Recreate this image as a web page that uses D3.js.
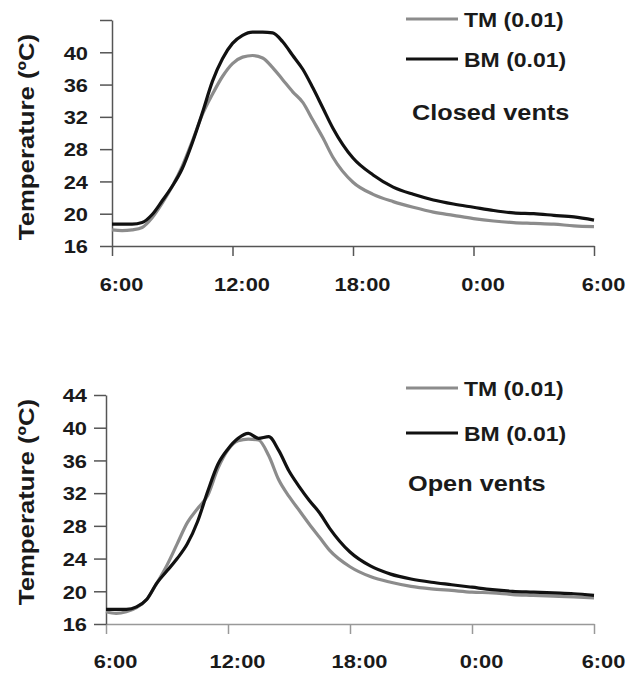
<!DOCTYPE html>
<html>
<head>
<meta charset="utf-8">
<script src="https://cdn.jsdelivr.net/npm/d3@7"></script>
<style>
    body { margin: 0; background: #fff; }
    text { font-family: "Liberation Sans", Arial, sans-serif; font-weight: bold; fill: #1a1a1a; }
</style>
</head>
<body>
<script>
"use strict";

// hours after 6:00
var hours = [0, 0.5, 1, 1.5, 2, 2.5, 3, 3.5, 4, 4.5, 5, 5.5, 6, 6.5, 7, 7.5, 8, 8.5,
    9, 9.5, 10, 10.5, 11, 12, 13, 14, 15, 16, 17, 18, 19, 20, 21, 22, 23, 24];

var timeTicks = [0, 6, 12, 18, 24];
var timeLabels = ["6:00", "12:00", "18:00", "0:00", "6:00"];
var tempTicks = [16, 20, 24, 28, 32, 36, 40, 44];
var seriesNames = ["TM (0.01)", "BM (0.01)"];

// closed vents
var closedTM = [18.0, 17.9, 18.0, 18.3, 19.5, 21.3, 23.4, 25.9, 29.0, 32.3, 34.8, 37.0, 38.6, 39.4, 39.6, 39.3, 38.1, 36.6,
    35.1, 33.8, 31.6, 29.4, 27.0, 23.9, 22.4, 21.5, 20.8, 20.2, 19.8, 19.4, 19.1, 18.9, 18.8, 18.7, 18.5, 18.4];
var closedBM = [18.7, 18.7, 18.7, 18.9, 19.9, 21.6, 23.4, 25.6, 28.8, 32.5, 36.4, 39.2, 41.1, 42.1, 42.5, 42.5, 42.4, 41.3,
    39.6, 37.9, 35.6, 33.1, 30.6, 26.9, 24.8, 23.3, 22.4, 21.7, 21.2, 20.8, 20.4, 20.1, 20.0, 19.8, 19.6, 19.2];

// open vents
var openTM = [17.5, 17.3, 17.5, 18.0, 19.0, 21.0, 23.2, 25.8, 28.4, 30.1, 31.7, 35.0, 37.3, 38.4, 38.6, 38.5, 36.6, 33.6,
    31.6, 29.9, 28.2, 26.6, 25.0, 23.0, 21.8, 21.1, 20.6, 20.3, 20.1, 19.9, 19.8, 19.6, 19.5, 19.4, 19.3, 19.2];
var openBM = [17.8, 17.8, 17.8, 18.1, 19.0, 21.0, 22.5, 24.0, 25.8, 28.5, 32.2, 35.5, 37.4, 38.7, 39.3, 38.7, 38.9, 37.2,
    34.7, 32.8, 31.1, 29.6, 27.7, 24.8, 23.1, 22.1, 21.5, 21.1, 20.8, 20.5, 20.2, 20.0, 19.9, 19.8, 19.7, 19.5];

var W = 627, H = 673;
var stretch = 1.15; // source font is wider than Arial

var svg = d3.select("body").append("svg")
    .attr("width", W)
    .attr("height", H);

function drawPanel(p) {
    var x = d3.scaleLinear().domain([0, 24]).range([p.left, p.right]);
    var y = d3.scaleLinear().domain([16, 44]).range([p.bottom, p.top]);
    var g = svg.append("g");

    // x axis
    var xAxis = g.append("g")
        .attr("transform", "translate(0," + p.bottom + ")")
        .call(d3.axisBottom(x)
            .tickValues(timeTicks)
            .tickSize(10)
            .tickSizeOuter(0)
            .tickFormat(function (d, i) { return timeLabels[i]; }));
    xAxis.select(".domain").attr("stroke", p.xAxisColor).attr("stroke-width", 1.5);
    xAxis.selectAll(".tick line").attr("stroke", p.xAxisColor).attr("stroke-width", 1.5);
    xAxis.selectAll(".tick text")
        .attr("x", 9 / stretch)
        .attr("y", p.xLabelOffset)
        .attr("dy", 0)
        .attr("transform", "scale(" + stretch + ",1)")
        .style("font-size", "19px")
        .attr("font-family", null);

    // y axis
    var yAxis = g.append("g")
        .attr("transform", "translate(" + p.left + ",0)")
        .call(d3.axisLeft(y)
            .tickValues(tempTicks)
            .tickSize(12)
            .tickSizeOuter(0)
            .tickFormat(function (d) { return (d === 44 && !p.showTop) ? "" : d; }));
    yAxis.select(".domain").attr("stroke", "#555").attr("stroke-width", 1.5);
    yAxis.selectAll(".tick line").attr("stroke", "#555").attr("stroke-width", 1.5);
    yAxis.selectAll(".tick text")
        .attr("x", -p.yLabelOffset / stretch)
        .attr("dy", "0.36em")
        .attr("transform", "scale(" + stretch + ",1)")
        .style("font-size", "19px")
        .attr("font-family", null);

    // y title
    g.append("text")
        .attr("transform", "translate(34," + p.titleY + ") rotate(-90) scale(1.12,1)")
        .attr("text-anchor", "middle")
        .style("font-size", "23px")
        .text("Temperature (\u00baC)");

    // lines
    var line = d3.line()
        .x(function (d, i) { return x(hours[i]); })
        .y(function (d) { return y(d); })
        .curve(d3.curveMonotoneX);

    g.append("path")
        .datum(p.tm)
        .attr("fill", "none")
        .attr("stroke", "#8c8c8c")
        .attr("stroke-width", 3.2)
        .attr("d", line);

    g.append("path")
        .datum(p.bm)
        .attr("fill", "none")
        .attr("stroke", "#111")
        .attr("stroke-width", 3.2)
        .attr("d", line);

    // legend
    var colors = ["#8c8c8c", "#111"];
    seriesNames.forEach(function (name, i) {
        g.append("line")
            .attr("x1", 406).attr("x2", 458)
            .attr("y1", p.legendY[i]).attr("y2", p.legendY[i])
            .attr("stroke", colors[i])
            .attr("stroke-width", 3);
        g.append("text")
            .attr("transform", "translate(464," + (p.legendY[i] + 8) + ") scale(" + stretch + ",1)")
            .style("font-size", "20px")
            .text(name);
    });

    g.append("text")
        .attr("transform", "translate(" + p.noteX + "," + p.noteY + ") scale(" + stretch + ",1)")
        .style("font-size", "22px")
        .text(p.note);
}

drawPanel({
    left: 112, right: 594, top: 20, bottom: 246,
    tm: closedTM, bm: closedBM,
    showTop: false,
    xAxisColor: "#555",
    xLabelOffset: 45,
    yLabelOffset: 24,
    titleY: 137,
    legendY: [19, 59],
    note: "Closed vents", noteX: 412, noteY: 120
});

drawPanel({
    left: 106, right: 594, top: 395, bottom: 624,
    tm: openTM, bm: openBM,
    showTop: true,
    xAxisColor: "#999",
    xLabelOffset: 44,
    yLabelOffset: 19,
    titleY: 502,
    legendY: [388, 433],
    note: "Open vents", noteX: 408, noteY: 491
});
</script>
</body>
</html>
